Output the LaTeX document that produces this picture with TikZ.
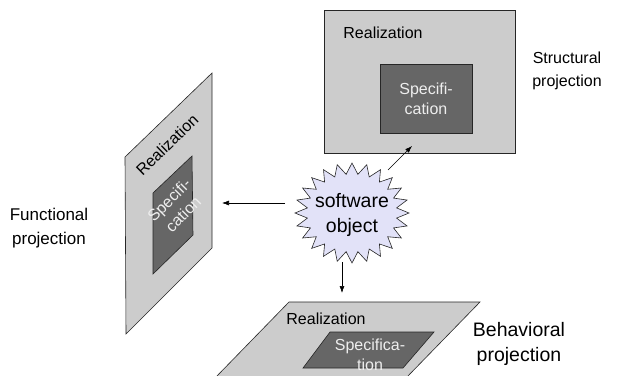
\documentclass[tikz,border=0pt]{standalone}
\usepackage{fontspec}
\setmainfont{Liberation Sans}
\usetikzlibrary{arrows.meta}
\definecolor{lgray}{HTML}{CCCCCC}
\definecolor{dgray}{HTML}{666666}
\definecolor{starfill}{RGB}{226,226,248}
\definecolor{spectext}{HTML}{EEEEEE}
\begin{document}
\begin{tikzpicture}[x=1pt,y=-1pt,
  outer/.style={fill=lgray,draw=black!85,line width=0.6pt},
  inner/.style={fill=dgray,draw=black!85,line width=0.6pt},
  lbl/.style={align=center,inner sep=0pt},
  real/.style={font=\fontsize{16}{20}\selectfont,inner sep=0pt},
  spec/.style={font=\fontsize{16}{20}\selectfont,align=center,inner sep=0pt,text=spectext},
  arr/.style={-{Latex[length=7pt,width=5pt]},line width=0.6pt}]
\useasboundingbox (0,0) rectangle (624,375);
\begin{scope}
\clip (0,0) rectangle (624,375);
% Structural
\draw[outer] (324,10) rectangle (515,153);
\draw[inner] (380,64) rectangle (472,133);
\node[real] (sreal) at (383,33) {Realization};
\node[spec] (sspec) at (426,99) {Specifi-\\cation};
\node[lbl,font=\fontsize{16}{23}\selectfont] (slab) at (567,71) {Structural\\projection};
% Functional
\draw[outer] (125,157) -- (212,73) -- (212,248) -- (126,334) -- cycle;
\draw[inner] (153,193) -- (192,156) -- (193,235) -- (153,274) -- cycle;
\node[real,rotate=44] (freal) at (167,145) {Realization};
\node[spec,rotate=45] (fspec) at (176,207) {Specifi-\\cation};
\node[lbl,font=\fontsize{17}{24}\selectfont] (flab) at (49,228) {Functional\\projection};
% Behavioral
\draw[outer] (289,302) -- (480,302) -- (406,378) -- (215,378) -- cycle;
\draw[inner] (330,332) -- (434,332) -- (403,368) -- (303,368) -- cycle;
\node[real] (breal) at (326,319) {Realization};
\node[spec] (bspec) at (370,355) {Specifica-\\tion};
\node[lbl,font=\fontsize{19.5}{25}\selectfont] (blab) at (519,344) {Behavioral\\projection};
\end{scope}
% Star
\draw[fill=starfill,draw=black!85,line width=0.6pt] (409,213)
  \foreach \k in {0,...,23} {
    -- ({352+45*cos(\k*15+7.5)},{213+39*sin(\k*15+7.5)})
    -- ({352+57*cos(\k*15+15)},{213+50*sin(\k*15+15)}) } -- cycle;
\node[font=\fontsize{19.5}{25}\selectfont,align=center,inner sep=0pt] (star) at (352,215) {software\\object};
% Arrows
\coordinate (sL) at (285,203);
\coordinate (fR) at (222,203);
\coordinate (sTR) at (388,170);
\coordinate (sB) at (412,146);
\coordinate (sBot) at (342,262);
\coordinate (bTop) at (342,293);
\draw[arr] (sL) -- (fR);
\draw[arr] (sTR) -- (sB);
\draw[arr] (sBot) -- (bTop);
\end{tikzpicture}
\end{document}
